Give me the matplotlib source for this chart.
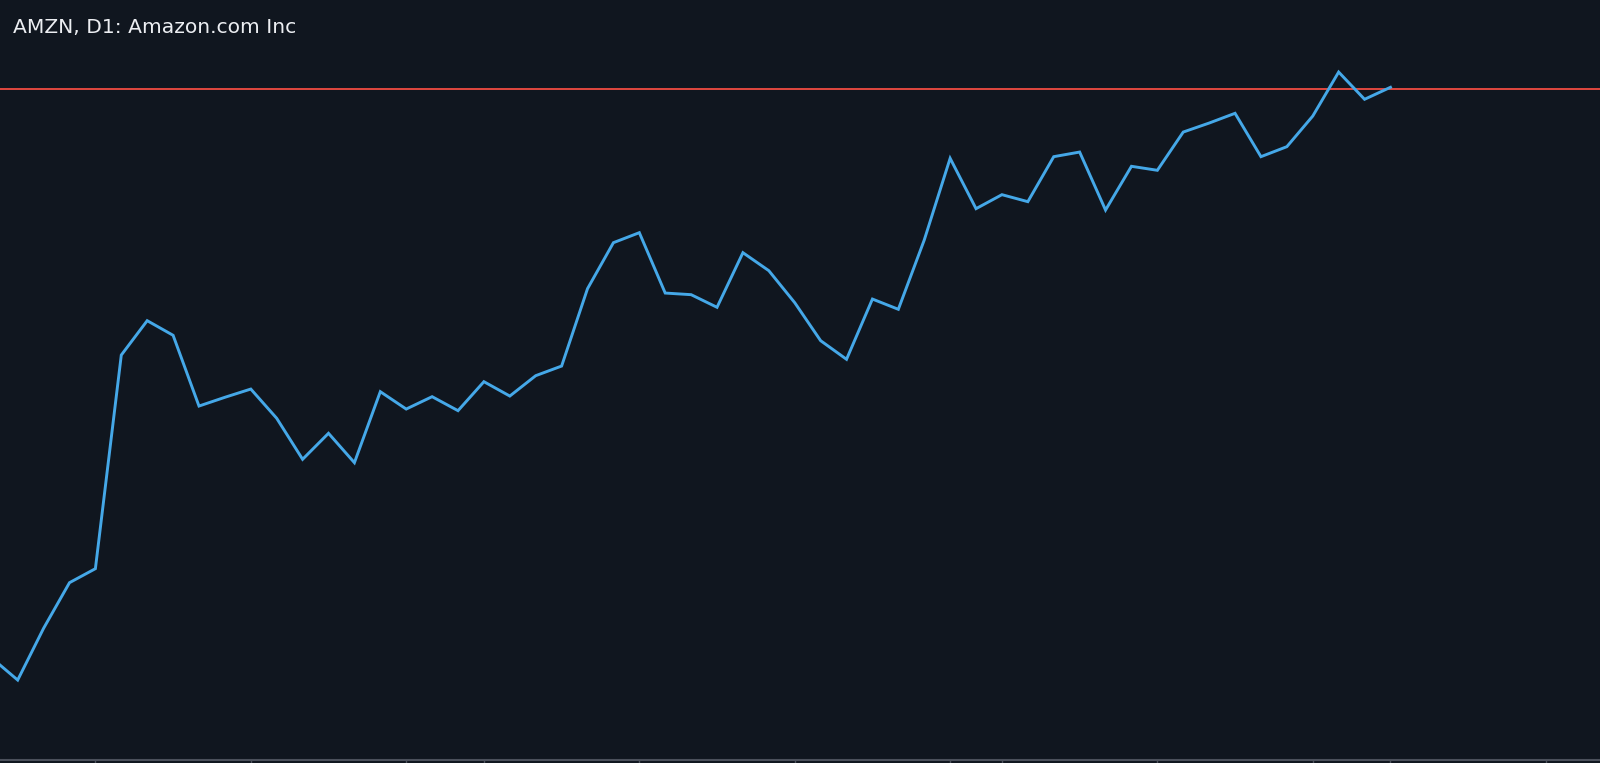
#!/usr/bin/env python3
"""AMZN daily close line with a horizontal level, dark chart style."""

import matplotlib
matplotlib.use('Agg')
import matplotlib.pyplot as plt

# ── Data ──
title = 'AMZN, D1: Amazon.com Inc'
bar_index = list(range(-1, 54))
close = [2944.6,
         2927.0, 2968.4, 3004.9, 3016.1, 3187.0, 3214.5, 3202.8, 3146.2,
         3153.2, 3159.8, 3136.4, 3103.6, 3124.4, 3100.9, 3157.7, 3143.8,
         3153.7, 3142.5, 3165.7, 3154.2, 3170.5, 3178.2, 3240.1, 3276.9,
         3284.9, 3236.6, 3235.3, 3225.2, 3268.9, 3254.5, 3228.9, 3198.5,
         3183.6, 3231.8, 3223.6, 3279.0, 3344.4, 3304.1, 3315.3, 3309.7,
         3345.7, 3349.4, 3303.0, 3338.0, 3334.8, 3365.4, 3372.6, 3380.4,
         3345.7, 3353.7, 3378.2, 3413.4, 3391.6, 3401.2]
level = 3400.0
tick_bars = [3, 9, 15, 18, 24, 30, 36, 38, 44, 50, 53, 59]

BG = '#10161f'
LINE = '#45a8e8'
LEVEL = '#e0483f'
AXIS = '#4b505b'
TEXT = '#eceef2'

W, H, DPI = 1600, 763, 100


def main():
    fig = plt.figure(figsize=(W / DPI, H / DPI), dpi=DPI, facecolor=BG)
    bottom = 3.5 / H
    ax = fig.add_axes([0, bottom, 1, 1 - bottom])
    ax.set_facecolor(BG)

    ax.plot(bar_index, close, color=LINE, linewidth=2.1,
            solid_joinstyle='miter', zorder=3)
    ax.axhline(level, color=LEVEL, linewidth=1.4, zorder=2)

    ax.set_xlim(-0.683, 61.09)
    ax.set_ylim(2863.44, 3471.04)

    for side in ('top', 'left', 'right'):
        ax.spines[side].set_visible(False)
    ax.spines['bottom'].set_color(AXIS)
    ax.spines['bottom'].set_linewidth(1.5)

    ax.set_xticks(tick_bars)
    ax.set_xticklabels([])
    ax.tick_params(axis='x', direction='out', length=3, width=1,
                   color=AXIS)
    ax.set_yticks([])

    fig.text(13 / W, 1 - 33 / H, title, color=TEXT, fontsize=14.6,
             family='DejaVu Sans', ha='left', va='baseline')

    fig.savefig('out.png', dpi=DPI, facecolor=BG)
    plt.close(fig)


if __name__ == '__main__':
    main()
